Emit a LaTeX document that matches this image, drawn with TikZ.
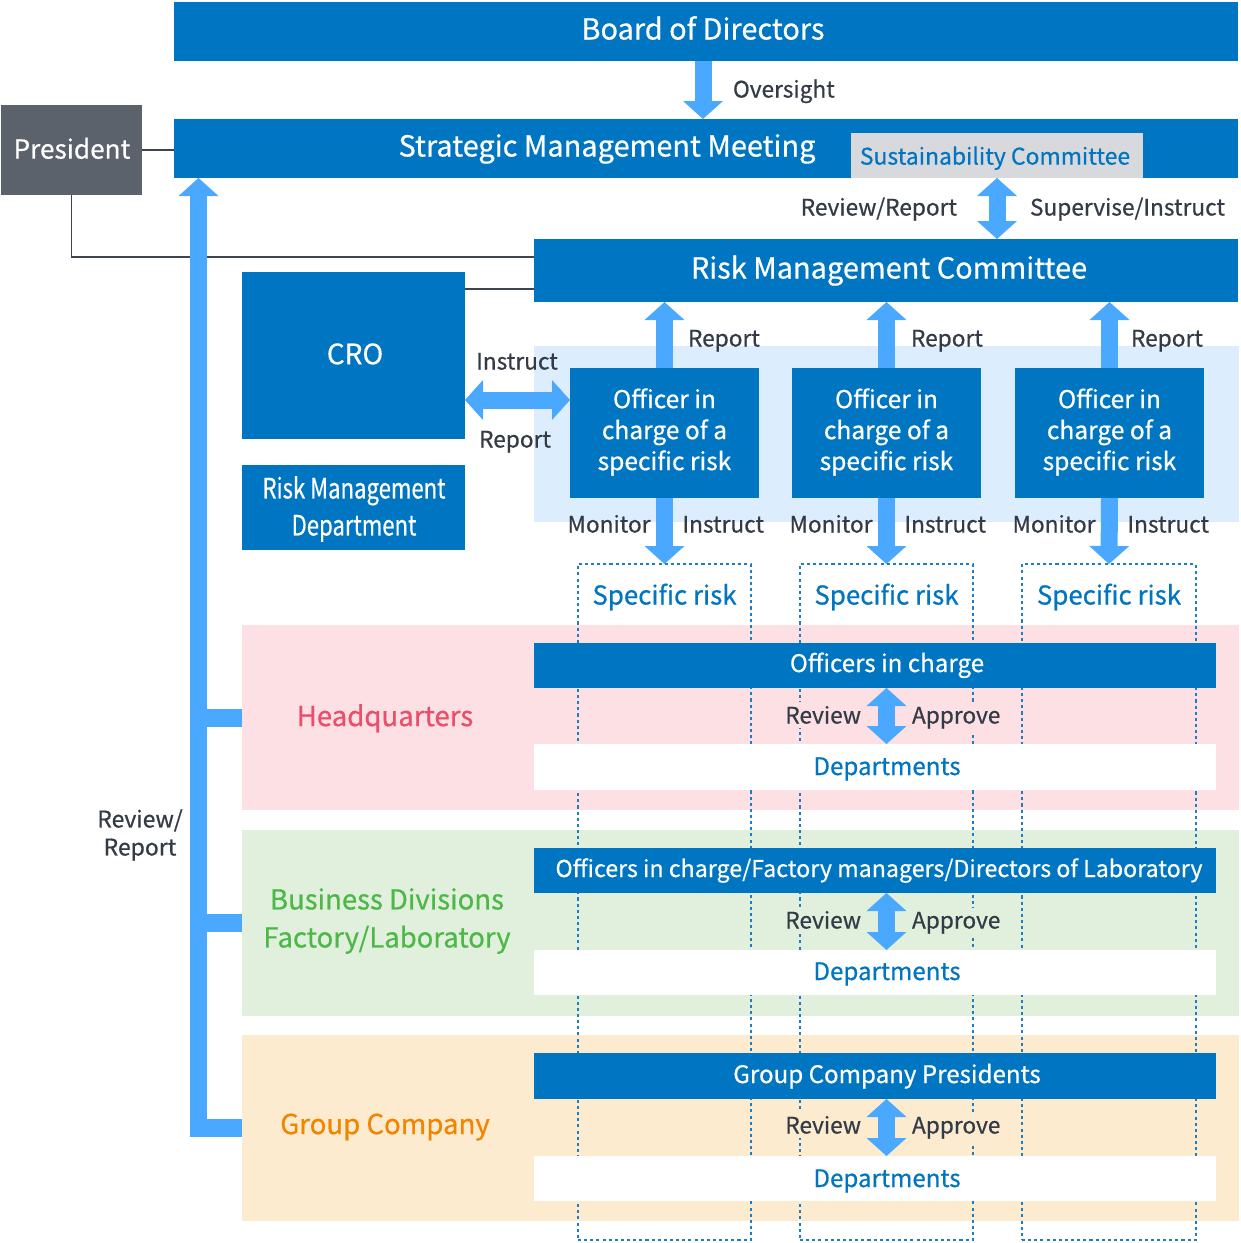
\documentclass[tikz,border=0pt]{standalone}
\usepackage{fontspec}
\setmainfont{Noto Sans CJK JP}[FakeBold=0.6]
\usetikzlibrary{arrows.meta,calc}
\definecolor{dblue}{HTML}{0075C1}
\definecolor{abl}{HTML}{4AA9FF}
\definecolor{lbg}{HTML}{DCEEFD}
\definecolor{pres}{HTML}{5C626C}
\definecolor{sgray}{HTML}{D7D9DD}
\definecolor{pinkbg}{HTML}{FCE0E4}
\definecolor{greenbg}{HTML}{E1F0DC}
\definecolor{orangebg}{HTML}{FDEBD0}
\definecolor{hqtxt}{HTML}{EC4D6B}
\definecolor{grtxt}{HTML}{4DB848}
\definecolor{ortxt}{HTML}{F28500}
\definecolor{lbl}{HTML}{333B47}
\definecolor{dashc}{HTML}{1F7DC4}
\definecolor{conn}{HTML}{3D4450}
\newcommand\bx[6]{\node[bk,#6, minimum width={(#4-(#2))*0.75pt}, minimum height={(#5-(#3))*0.75pt}] (#1) at ({(#2+#4)/2},{(#3+#5)/2}) {};}
\newcommand\fs[1]{\fontsize{#1pt}{1.2\dimexpr#1pt\relax}\selectfont}
\tikzset{
  bk/.style={inner sep=0pt, outer sep=0pt, draw=none, rectangle},
  tx/.style={inner sep=0pt, outer sep=0pt, anchor=base},
  lab/.style={inner sep=0pt, outer sep=0pt, text=lbl, font=\fs{17}},
  fat/.style={draw=abl, line width=12.75pt, -{Triangle[width=30pt,length=13.5pt,line width=0pt]}},
  fatd/.style={draw=abl, line width=12.75pt, {Triangle[width=30pt,length=13.5pt,line width=0pt]}-{Triangle[width=30pt,length=13.5pt,line width=0pt]}},
  thinc/.style={draw=conn, line width=1.3pt},
  dashbox/.style={draw=dashc, line width=1.1pt, dash pattern=on 2.3pt off 2.3pt},
  branch/.style={draw=abl, line width=13.5pt}
}
\begin{document}
\begin{tikzpicture}[x=0.75pt,y=-0.75pt]
\fill[white] (0,0) rectangle (1240,1243);
\useasboundingbox (0,0) rectangle (1240,1243);
% backgrounds
\bx{hq}{242}{625}{1239}{810}{fill=pinkbg}
\bx{bd}{242}{830}{1239}{1016}{fill=greenbg}
\bx{gc}{242}{1035}{1239}{1221}{fill=orangebg}
\bx{lbreg}{534}{346}{1239}{522}{fill=lbg}
% dashed columns
\bx{sr1}{578}{564}{751}{1240}{dashbox}
\bx{sr2}{800}{564}{973}{1240}{dashbox}
\bx{sr3}{1022}{564}{1196}{1240}{dashbox}
% boxes
\bx{board}{174}{2}{1238}{61}{fill=dblue}
\bx{strat}{174}{119}{1238}{178}{fill=dblue}
\bx{sust}{851}{133}{1143}{178}{fill=sgray}
\bx{pres}{1}{105}{142}{195}{fill=pres}
\bx{rmc}{534}{239}{1238}{302}{fill=dblue}
\bx{cro}{242}{272}{465}{439}{fill=dblue}
\bx{rmd}{242}{465}{465}{550}{fill=dblue}
\bx{o1}{570}{368}{759}{498}{fill=dblue}
\bx{o2}{792}{368}{981}{498}{fill=dblue}
\bx{o3}{1015}{368}{1204}{498}{fill=dblue}
\bx{hqb}{534}{643}{1216}{688}{fill=dblue}
\bx{hqd}{534}{744}{1216}{790}{fill=white}
\bx{bdb}{534}{848}{1216}{893}{fill=dblue}
\bx{bdd}{534}{950}{1216}{995}{fill=white}
\bx{gcb}{534}{1053}{1216}{1099}{fill=dblue}
\bx{gcd}{534}{1156}{1216}{1201}{fill=white}
% thin connectors
\draw[thinc] (pres.east) -- (pres.east -| strat.west);
\draw[thinc] (pres.south) |- ($(rmc.north west)+(0,18)$);
\draw[thinc] ($(cro.north east)+(0,17)$) -- ($(rmc.north west)+(0,50)$);
% texts
\node[tx, text=white, font=\fs{21.7}] (tboard) at (703,39.5) {Board of Directors};
\node[tx, text=white, font=\fs{21.7}] (tstrat) at (607,156.5) {Strategic Management Meeting};
\node[tx, text=dblue, font=\fs{17.2}] (tsust) at (995,164.6) {Sustainability Committee};
\node[tx, text=white, font=\fs{21.7}] (trmc) at (889,278.5) {Risk Management Committee};
\node[tx, text=white, font=\fs{19.6}] (tpres) at (72,158.6) {President};
\node[tx, text=white, font=\fs{21}] (tcro) at (355,364.2) {CRO};
\node[inner sep=0pt, text=white, align=center, font=\fontsize{21pt}{27.75pt}\selectfont] (trmd) at (354,509) {\scalebox{0.79}[1]{Risk Management}\\\scalebox{0.79}[1]{Department}};
\foreach \o in {o1,o2,o3}{
  \node[inner sep=0pt, text=white, align=center, font=\fontsize{18.4pt}{23.25pt}\selectfont] (t\o) at ($(\o.center)+(0,-1)$) {Officer in\\charge of a\\specific risk};
}
\foreach \s in {sr1,sr2,sr3}{
  \node[tx, text=dblue, font=\fs{19.4}] (t\s) at (\s |- 0,604.5) {Specific risk};
}
\node[tx, text=hqtxt, font=\fs{20.7}] (thq) at (385,726.1) {Headquarters};
\node[inner sep=0pt, text=grtxt, align=center, font=\fontsize{20.6pt}{28.5pt}\selectfont] (tbd) at (387,921) {Business Divisions\\Factory/Laboratory};
\node[tx, text=ortxt, font=\fs{20.7}] (tgc) at (385,1134.1) {Group Company};
\node[tx, text=white, font=\fs{18.1}] (thqb) at (887,672) {Officers in charge};
\node[tx, text=white, font=\fs{17.4}] (tbdb) at (879,877) {Officers in charge/Factory managers/Directors of Laboratory};
\node[tx, text=white, font=\fs{18.1}] (tgcb) at (887,1083) {Group Company Presidents};
\node[tx, text=dblue, font=\fs{18.1}] (thqd) at (887,775) {Departments};
\node[tx, text=dblue, font=\fs{18.1}] (tbdd) at (887,980) {Departments};
\node[tx, text=dblue, font=\fs{18.1}] (tgcd) at (887,1187) {Departments};
% labels
\node[lab, anchor=base west] (lov) at (733,97.5) {Oversight};
\node[lab, anchor=base east] (lrr) at (957,215.5) {Review/Report};
\node[lab, anchor=base west] (lsi) at (1030,215.5) {Supervise/Instruct};
\node[lab, anchor=base] (lci) at (517,369.5) {Instruct};
\node[lab, anchor=base] (lcr) at (515,447.5) {Report};
\foreach \o/\x in {o1/688,o2/911,o3/1131}{
  \node[lab, anchor=base west] (lr\o) at (\x,346.5) {Report};
}
\foreach \o in {o1,o2,o3}{
  \node[lab, anchor=base east] (lm\o) at ($(\o.south)+(-14,34.5)$) {Monitor};
  \node[lab, anchor=base west] (li\o) at ($(\o.south)+(18,34.5)$) {Instruct};
}
\foreach \b/\y/\c in {hq/723.5/pinkbg,bd/928.5/greenbg,gc/1133.5/orangebg}{
  \node[lab, fill=\c, inner ysep=3pt, anchor=base east] (lrv\b) at (861,\y) {Review};
  \node[lab, fill=\c, inner ysep=3pt, anchor=base west] (lap\b) at (912,\y) {Approve};
}
\node[inner sep=0pt, text=lbl, align=center, font=\fontsize{17.2pt}{21pt}\selectfont] (lrep) at (140,835) {Review/\\Report};
% fat arrows
\coordinate (ovx) at (703,0);
\draw[fat] (board.south -| ovx) -- (strat.north -| ovx);
\draw[fatd] (sust.south) -- (sust.south |- rmc.north);
\coordinate (ia) at ($(o1.north west)+(0,32)$);
\draw[fatd] (ia -| cro.east) -- (ia);
\foreach \o/\s in {o1/sr1,o2/sr2,o3/sr3}{
  \draw[fat] (\o.north) -- (\o.north |- rmc.south);
  \draw[fat] (\o.south) -- (\s.north);
}
\foreach \b in {hq,bd,gc}{
  \draw[fatd] (\b b.south -| sr2.north) -- (\b d.north -| sr2.north);
}
% left spine
\coordinate (sp) at (198.5,0);
\foreach \b in {hq,bd,gc}{
  \draw[branch] (\b.west) -- (\b.west -| 190,0);
}
\draw[fat] ($(gc.west -| sp)+(0,9)$) -- (strat.south -| sp);
\end{tikzpicture}
\end{document}
